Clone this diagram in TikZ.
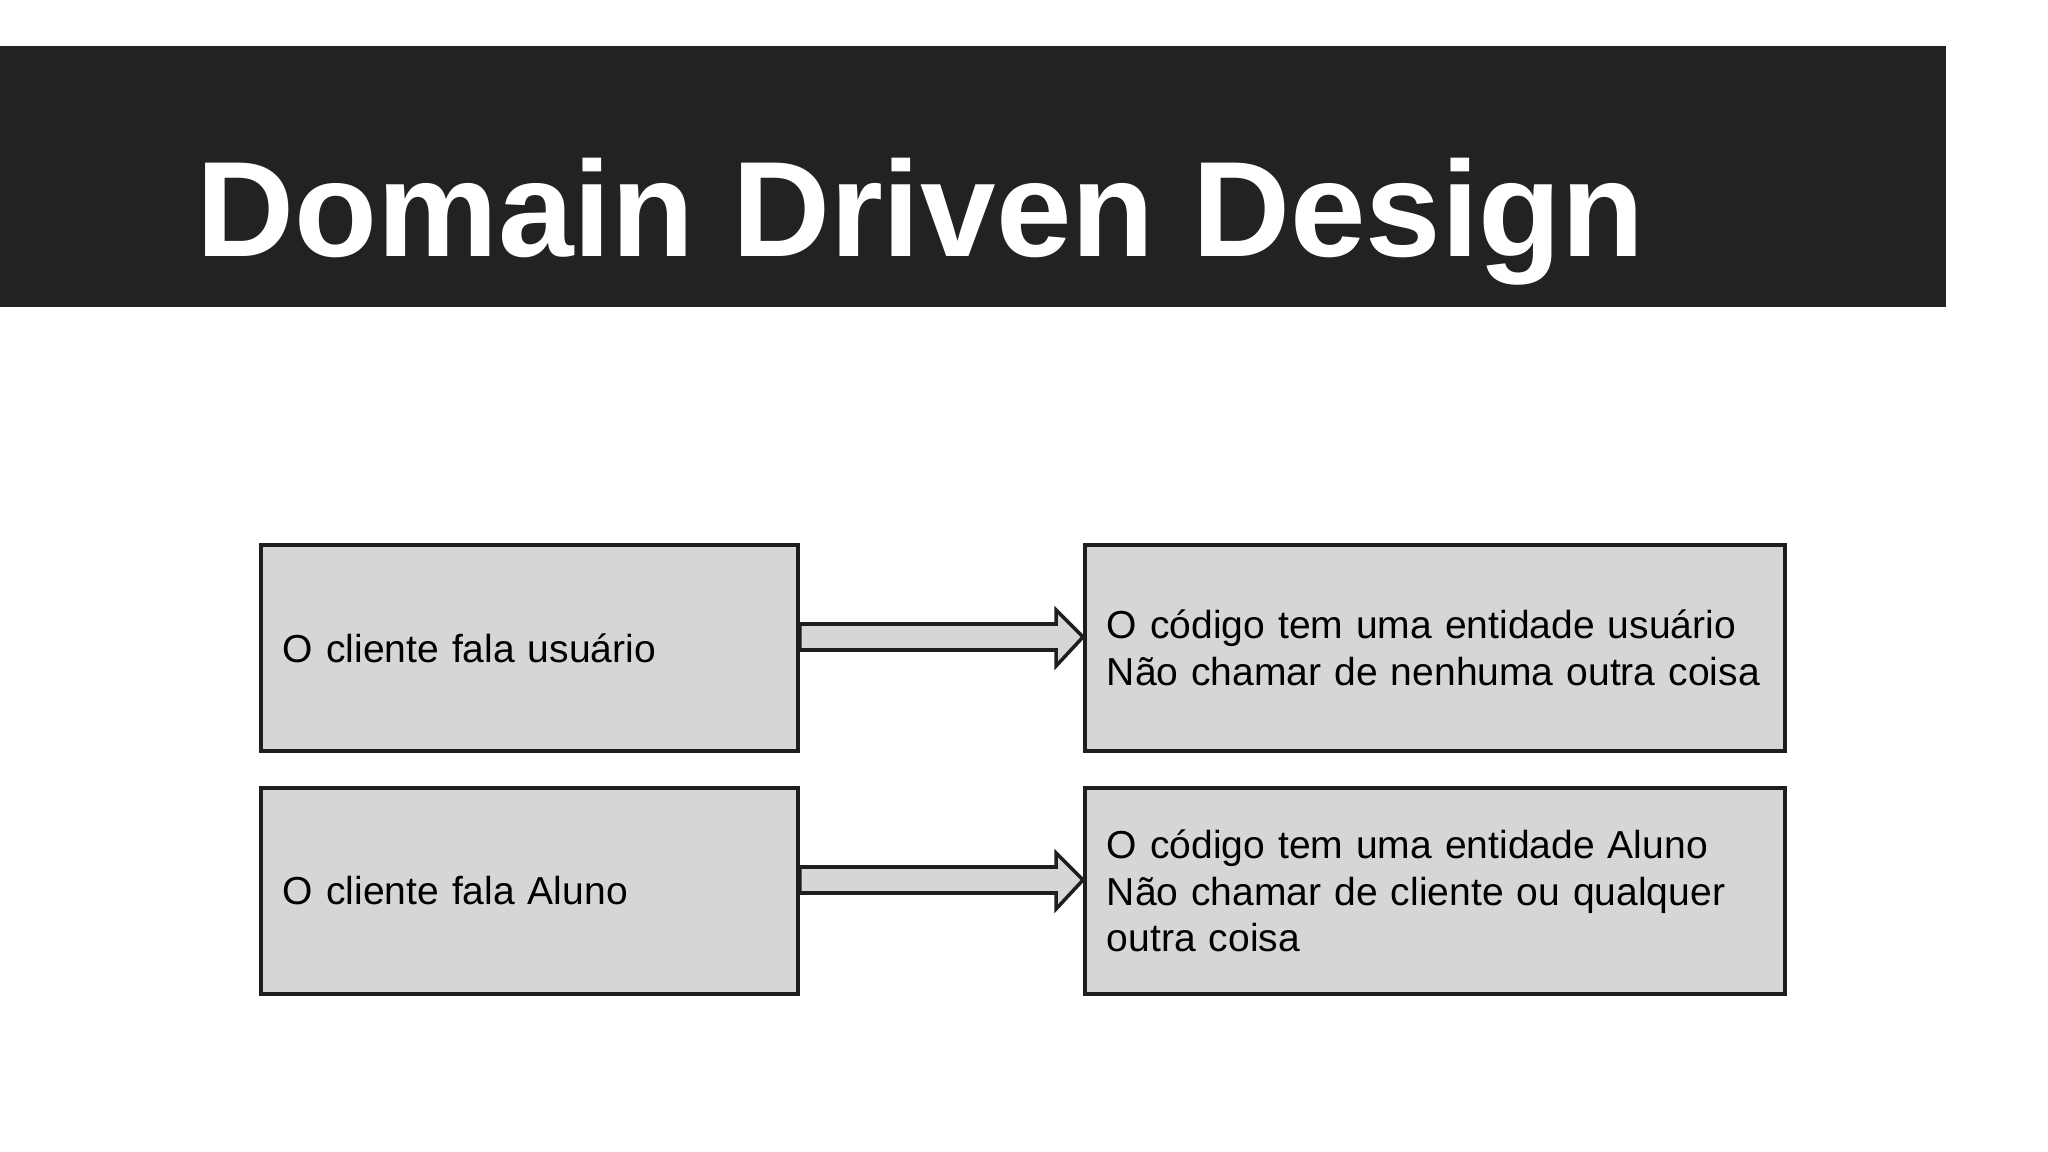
\documentclass[tikz,border=0pt]{standalone}
\usepackage{fontspec}
\setmainfont{Liberation Sans}
\usetikzlibrary{calc}
\definecolor{barbg}{RGB}{34,34,34}
\definecolor{boxgray}{RGB}{214,214,214}
\definecolor{edge}{RGB}{30,30,30}
\begin{document}
\begin{tikzpicture}
  [x=0.01cm,y=-0.01cm,
   box/.style={rectangle,draw=edge,fill=boxgray,line width=1pt,
     minimum height=2.06cm,inner xsep=0.22cm,align=left,
     font=\fontsize{11.1}{13.3}\selectfont},
   lbox/.style={box,text width=4.93cm},
   rbox/.style={box,text width=6.56cm},
   blockarrow/.style={draw=edge,fill=boxgray,line width=1pt,line join=miter}]
  \useasboundingbox (0,0) rectangle (2048,1152);

  \fill[barbg] (0,46) rectangle (1946,307);
  \node (title) at (196,257) [anchor=base west,inner sep=0,text=white,
    font=\fontsize{38.6}{44}\selectfont\bfseries] {Domain Driven Design};

  \node (cli1) at (529.5,648) [lbox] {O cliente fala usuário};
  \node (cli2) at (529.5,891) [lbox] {O cliente fala Aluno};
  \node (cod1) at (1435,648) [rbox] {\mbox{O código tem uma entidade usuário}\\\mbox{Não chamar de nenhuma outra coisa}};
  \node (cod2) at (1435,891) [rbox] {\mbox{O código tem uma entidade Aluno}\\\mbox{Não chamar de cliente ou qualquer}\\outra coisa};

  \foreach \from/\to in {cli1/cod1, cli2/cod2}
    \draw[blockarrow] ($(\from.east)+(0,-24)$) -- ($(\to.west)+(-27,-24)$)
      -- ($(\to.west)+(-27,-38)$) -- ($(\to.west)+(0,-11)$)
      -- ($(\to.west)+(-27,18)$) -- ($(\to.west)+(-27,2)$)
      -- ($(\from.east)+(0,2)$) -- cycle;
\end{tikzpicture}
\end{document}
